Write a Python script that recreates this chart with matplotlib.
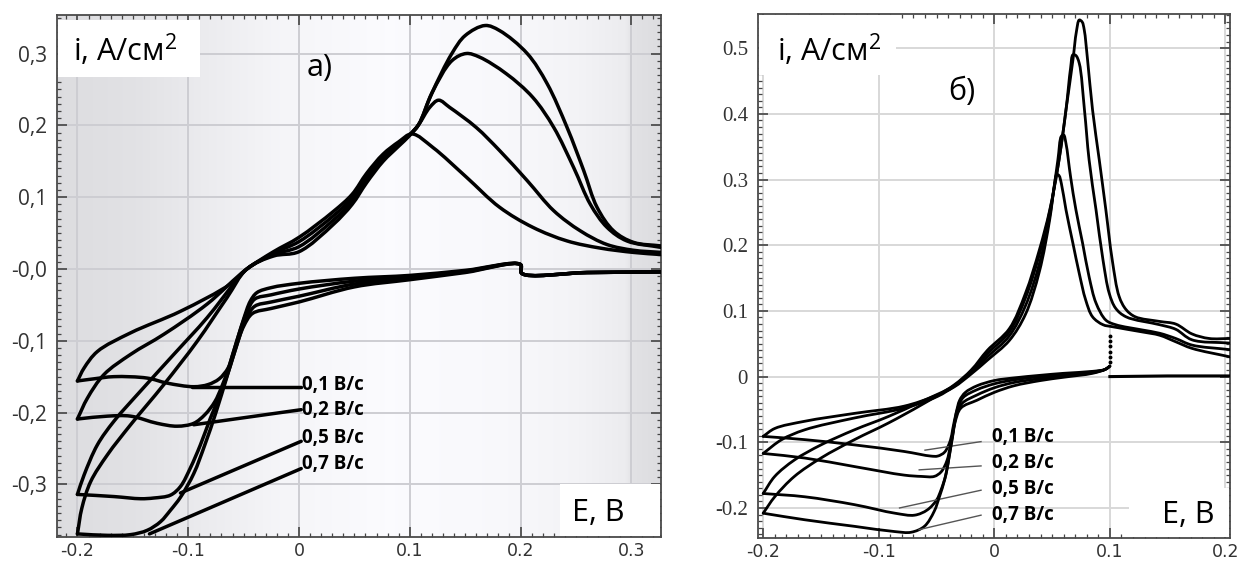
import numpy as np
import matplotlib.pyplot as plt
from matplotlib.patches import Rectangle, PathPatch
from matplotlib.path import Path
from matplotlib.ticker import MultipleLocator, FixedLocator

plt.rcParams["mathtext.fontset"] = "custom"
plt.rcParams["mathtext.rm"] = "Open Sans"

rate_labels = ["0,1 В/с", "0,2 В/с", "0,5 В/с", "0,7 В/с"]
current_label = "i, А/см$\\mathrm{^{2}}$"

# ---- panel а): anodic sweep, E in V, i in A/cm2 ----
a_fwd_E = [
    [-0.2, -0.194, -0.182, -0.152, -0.107, -0.062, -0.047, -0.023, 0.0, 0.031, 0.048, 0.061, 0.076, 0.090,
     0.102, 0.121, 0.151, 0.181, 0.211, 0.242, 0.272, 0.302, 0.327],
    [-0.2, -0.191, -0.176, -0.152, -0.122, -0.083, -0.047, -0.023, 0.0, 0.031, 0.048, 0.061, 0.076, 0.090,
     0.100, 0.108, 0.118, 0.126, 0.136, 0.160, 0.181, 0.206, 0.230, 0.254, 0.278, 0.302, 0.327],
    [-0.2, -0.194, -0.182, -0.167, -0.143, -0.113, -0.083, -0.059, -0.047, -0.023, 0.0, 0.031, 0.048, 0.061,
     0.076, 0.090, 0.100, 0.108, 0.120, 0.138, 0.151, 0.163, 0.187, 0.211, 0.230, 0.248, 0.263, 0.278,
     0.296, 0.327],
    [-0.2, -0.196, -0.188, -0.173, -0.152, -0.122, -0.092, -0.065, -0.047, -0.023, 0.0, 0.031, 0.048, 0.061,
     0.076, 0.090, 0.100, 0.108, 0.120, 0.138, 0.150, 0.168, 0.181, 0.206, 0.224, 0.242, 0.257, 0.269,
     0.284, 0.302, 0.327],
]
a_fwd_i = [
    [-0.156, -0.138, -0.115, -0.089, -0.059, -0.021, 0.0, 0.024, 0.044, 0.080, 0.104, 0.133, 0.160, 0.177,
     0.188, 0.169, 0.128, 0.086, 0.058, 0.039, 0.029, 0.023, 0.020],
    [-0.209, -0.180, -0.147, -0.119, -0.091, -0.049, 0.0, 0.022, 0.038, 0.074, 0.099, 0.130, 0.157, 0.175,
     0.187, 0.201, 0.225, 0.235, 0.225, 0.197, 0.165, 0.123, 0.081, 0.053, 0.034, 0.026, 0.023],
    [-0.314, -0.287, -0.245, -0.212, -0.170, -0.119, -0.068, -0.021, 0.0, 0.020, 0.031, 0.068, 0.094, 0.125,
     0.153, 0.173, 0.187, 0.201, 0.245, 0.290, 0.300, 0.295, 0.272, 0.239, 0.197, 0.141, 0.090, 0.058,
     0.039, 0.030],
    [-0.369, -0.333, -0.296, -0.259, -0.217, -0.161, -0.101, -0.040, 0.0, 0.018, 0.024, 0.062, 0.090, 0.120,
     0.150, 0.171, 0.186, 0.201, 0.245, 0.300, 0.325, 0.339, 0.332, 0.300, 0.258, 0.197, 0.137, 0.086,
     0.053, 0.037, 0.032],
]
a_rev_E = [
    [0.327, 0.26, 0.201, 0.200, 0.15, 0.10, 0.05, 0.0, -0.025, -0.038, -0.044, -0.050, -0.055, -0.060,
     -0.064, -0.072, -0.082, -0.095, -0.119, -0.137, -0.167, -0.185, -0.2],
    [0.327, 0.26, 0.201, 0.200, 0.15, 0.10, 0.05, 0.0, -0.025, -0.040, -0.047, -0.053, -0.059, -0.064,
     -0.070, -0.076, -0.085, -0.095, -0.110, -0.128, -0.152, -0.173, -0.2],
    [0.327, 0.26, 0.201, 0.200, 0.15, 0.10, 0.05, 0.0, -0.025, -0.040, -0.048, -0.055, -0.062, -0.070,
     -0.080, -0.089, -0.098, -0.107, -0.116, -0.131, -0.143, -0.167, -0.2],
    [0.327, 0.26, 0.201, 0.200, 0.15, 0.10, 0.05, 0.0, -0.025, -0.042, -0.050, -0.057, -0.065, -0.075,
     -0.085, -0.095, -0.107, -0.116, -0.125, -0.137, -0.152, -0.173, -0.2],
]
a_rev_i = [
    [-0.004, -0.005, -0.006, 0.006, -0.002, -0.009, -0.013, -0.020, -0.026, -0.033, -0.045, -0.070, -0.095,
     -0.120, -0.138, -0.153, -0.161, -0.164, -0.159, -0.152, -0.150, -0.153, -0.156],
    [-0.004, -0.005, -0.006, 0.006, -0.003, -0.011, -0.017, -0.028, -0.036, -0.042, -0.060, -0.085, -0.115,
     -0.140, -0.165, -0.185, -0.203, -0.215, -0.219, -0.215, -0.205, -0.205, -0.209],
    [-0.004, -0.005, -0.006, 0.006, -0.004, -0.013, -0.021, -0.038, -0.046, -0.052, -0.070, -0.100, -0.135,
     -0.170, -0.208, -0.245, -0.277, -0.303, -0.315, -0.319, -0.320, -0.317, -0.314],
    [-0.004, -0.005, -0.006, 0.006, -0.005, -0.015, -0.025, -0.046, -0.055, -0.062, -0.080, -0.110, -0.150,
     -0.200, -0.245, -0.285, -0.318, -0.336, -0.352, -0.364, -0.370, -0.371, -0.369],
]
a_lead_E0 = [-0.097, -0.095, -0.107, -0.135]
a_lead_i0 = [-0.164, -0.217, -0.312, -0.369]
a_lead_E1 = [0.002, 0.002, 0.002, 0.002]
a_lead_i1 = [-0.164, -0.196, -0.240, -0.278]
a_label_E = 0.003
a_label_i = [-0.162, -0.196, -0.236, -0.272]
a_yticks = [0.3, 0.2, 0.1, 0.0, -0.1, -0.2, -0.3]
a_yticklabels = ["0,3", "0,2", "0,1", "-0,0", "-0,1", "-0,2", "-0,3"]
a_xticks = [-0.2, -0.1, 0.0, 0.1, 0.2, 0.3]
a_xticklabels = ["-0.2", "-0.1", "0", "0.1", "0.2", "0.3"]

# ---- panel б) ----
b_fwd_E = [
    [-0.2, -0.190, -0.164, -0.121, -0.078, -0.052, -0.035, -0.020, -0.006, 0.013, 0.027, 0.039, 0.048,
     0.052, 0.054, 0.056, 0.058, 0.062, 0.068, 0.0735, 0.079, 0.085, 0.094, 0.102, 0.128, 0.143, 0.157,
     0.171, 0.204],
    [-0.2, -0.184, -0.164, -0.121, -0.078, -0.049, -0.035, -0.020, -0.006, 0.013, 0.027, 0.039, 0.048,
     0.055, 0.058, 0.060, 0.062, 0.066, 0.0706, 0.0764, 0.082, 0.088, 0.0965, 0.105, 0.128, 0.143, 0.157,
     0.171, 0.204],
    [-0.2, -0.190, -0.173, -0.150, -0.121, -0.092, -0.063, -0.035, -0.020, -0.006, 0.013, 0.027, 0.039,
     0.048, 0.056, 0.062, 0.066, 0.068, 0.0705, 0.0735, 0.078, 0.082, 0.088, 0.094, 0.0994, 0.105, 0.114,
     0.143, 0.157, 0.171, 0.204],
    [-0.2, -0.190, -0.173, -0.150, -0.121, -0.092, -0.063, -0.035, -0.020, -0.006, 0.013, 0.027, 0.039,
     0.048, 0.056, 0.062, 0.068, 0.071, 0.0735, 0.0760, 0.0778, 0.0807, 0.085, 0.0908, 0.0965, 0.102,
     0.108, 0.114, 0.122, 0.143, 0.157, 0.171, 0.186, 0.204],
]
b_fwd_i = [
    [-0.091, -0.079, -0.068, -0.056, -0.045, -0.030, -0.016, 0.004, 0.025, 0.055, 0.095, 0.160, 0.240,
     0.292, 0.308, 0.306, 0.294, 0.254, 0.203, 0.157, 0.117, 0.091, 0.079, 0.076, 0.068, 0.063, 0.053,
     0.043, 0.030],
    [-0.117, -0.096, -0.081, -0.063, -0.048, -0.030, -0.015, 0.006, 0.030, 0.062, 0.108, 0.172, 0.245,
     0.330, 0.366, 0.368, 0.355, 0.304, 0.254, 0.203, 0.152, 0.112, 0.086, 0.079, 0.071, 0.066, 0.058,
     0.048, 0.041],
    [-0.178, -0.152, -0.127, -0.104, -0.081, -0.061, -0.038, -0.014, 0.008, 0.035, 0.068, 0.120, 0.186,
     0.252, 0.330, 0.406, 0.470, 0.490, 0.489, 0.477, 0.406, 0.330, 0.254, 0.178, 0.127, 0.104, 0.091,
     0.079, 0.072, 0.056, 0.051],
    [-0.208, -0.183, -0.152, -0.124, -0.096, -0.071, -0.043, -0.013, 0.010, 0.040, 0.073, 0.127, 0.193,
     0.254, 0.330, 0.406, 0.482, 0.525, 0.543, 0.540, 0.528, 0.482, 0.406, 0.330, 0.254, 0.178, 0.122,
     0.102, 0.091, 0.084, 0.080, 0.065, 0.058, 0.058],
]
b_rev_E = [
    [0.100, 0.096, 0.085, 0.06, 0.04, 0.017, 0.0, -0.015, -0.025, -0.030, -0.033, -0.036, -0.038, -0.043,
     -0.049, -0.055, -0.078, -0.121, -0.164, -0.2],
    [0.100, 0.096, 0.085, 0.06, 0.04, 0.017, 0.0, -0.015, -0.027, -0.032, -0.035, -0.038, -0.041, -0.046,
     -0.052, -0.063, -0.078, -0.121, -0.164, -0.2],
    [0.100, 0.096, 0.085, 0.06, 0.04, 0.017, 0.0, -0.015, -0.028, -0.033, -0.036, -0.039, -0.042, -0.046,
     -0.050, -0.058, -0.069, -0.086, -0.121, -0.164, -0.2],
    [0.100, 0.096, 0.085, 0.06, 0.04, 0.017, 0.0, -0.015, -0.029, -0.034, -0.037, -0.040, -0.043, -0.0475,
     -0.052, -0.0605, -0.072, -0.086, -0.121, -0.164, -0.2],
]
b_rev_i = [
    [0.016, 0.011, 0.008, 0.005, 0.002, -0.002, -0.006, -0.014, -0.024, -0.036, -0.055, -0.080, -0.097,
     -0.115, -0.121, -0.121, -0.114, -0.104, -0.096, -0.091],
    [0.016, 0.011, 0.007, 0.003, 0.0, -0.005, -0.011, -0.020, -0.032, -0.050, -0.076, -0.105, -0.128,
     -0.145, -0.152, -0.152, -0.150, -0.137, -0.124, -0.117],
    [0.016, 0.011, 0.006, 0.001, -0.003, -0.009, -0.017, -0.028, -0.041, -0.060, -0.090, -0.120, -0.150,
     -0.172, -0.188, -0.203, -0.211, -0.208, -0.195, -0.183, -0.178],
    [0.016, 0.011, 0.005, -0.001, -0.006, -0.014, -0.024, -0.036, -0.048, -0.070, -0.100, -0.132, -0.157,
     -0.183, -0.205, -0.228, -0.237, -0.236, -0.228, -0.218, -0.208],
]
b_flat_E = [0.100, 0.150, 0.204]
b_flat_i = [0.000, 0.001, 0.001]
b_spike_E = [0.100, 0.100, 0.100, 0.100, 0.100, 0.100]
b_spike_i = [0.022, 0.030, 0.038, 0.046, 0.054, 0.062]
b_lead_E0 = [-0.060, -0.065, -0.082, -0.065]
b_lead_i0 = [-0.112, -0.142, -0.200, -0.233]
b_lead_E1 = [-0.0115, -0.0115, -0.0115, -0.0115]
b_lead_i1 = [-0.099, -0.136, -0.173, -0.211]
b_label_E = -0.002
b_label_i = [-0.092, -0.131, -0.171, -0.211]
b_yticks = [0.5, 0.4, 0.3, 0.2, 0.1, 0.0, -0.1, -0.2]
b_yticklabels = ["0.5", "0.4", "0.3", "0.2", "0.1", "0", "-0.1", "-0.2"]
b_xticks = [-0.2, -0.1, 0.0, 0.1, 0.2]
b_xticklabels = ["-0.2", "-0.1", "0", "0.1", "0.2"]

sans = ["Open Sans", "DejaVu Sans"]

W, H = 1240, 562
fig = plt.figure(figsize=(W / 100, H / 100), dpi=100)
a_box = [0.046, 0.045, 0.487, 0.928]
b_box = [0.611, 0.043, 0.381, 0.932]
ax_a = fig.add_axes(a_box)
ax_b = fig.add_axes(b_box)

a_xlim, a_ylim = (-0.2184, 0.3267), (-0.3729, 0.3534)
b_xlim, b_ylim = (-0.2048, 0.204), (-0.2455, 0.552)


def smooth_curve(E, i, sx, sy):
    # centripetal Catmull-Rom through the points, as cubic Bezier segments
    P = np.column_stack([np.asarray(E, float) * sx, np.asarray(i, float) * sy])
    ext = np.vstack([2 * P[0] - P[1], P, 2 * P[-1] - P[-2]])
    verts, codes = [P[0]], [Path.MOVETO]
    for k in range(len(P) - 1):
        p0, p1, p2, p3 = ext[k], ext[k + 1], ext[k + 2], ext[k + 3]
        d1 = max(np.hypot(*(p1 - p0)), 1e-9)
        d2 = max(np.hypot(*(p2 - p1)), 1e-9)
        d3 = max(np.hypot(*(p3 - p2)), 1e-9)
        a1, a2, a3 = np.sqrt(d1), np.sqrt(d2), np.sqrt(d3)
        b1 = (d1 * p2 - d2 * p0 + (2 * d1 + 3 * a1 * a2 + d2) * p1) / (3 * a1 * (a1 + a2))
        b2 = (d3 * p1 - d2 * p3 + (2 * d3 + 3 * a3 * a2 + d2) * p2) / (3 * a3 * (a3 + a2))
        verts += [b1, b2, p2]
        codes += [Path.CURVE4] * 3
    verts = np.array(verts) / [sx, sy]
    return Path(verts, codes)


def draw_curve(ax, box, xlim, ylim, E, i, lw):
    sx = W * box[2] / (xlim[1] - xlim[0])
    sy = H * box[3] / (ylim[1] - ylim[0])
    ax.add_patch(PathPatch(smooth_curve(E, i, sx, sy), facecolor="none", edgecolor="black", lw=lw,
                           capstyle="round", joinstyle="round", zorder=3))


def style_axes(ax, xlim, ylim, xticks, xlabels, yticks, ylabels, yfont, gridcolor):
    ax.set_xlim(*xlim)
    ax.set_ylim(*ylim)
    ax.xaxis.set_major_locator(FixedLocator(xticks))
    ax.yaxis.set_major_locator(FixedLocator(yticks))
    ax.xaxis.set_minor_locator(MultipleLocator(0.01))
    ax.yaxis.set_minor_locator(MultipleLocator(0.01))
    ax.set_xticklabels(xlabels, family="DejaVu Sans", fontsize=12.5, color="#333333")
    ax.set_yticklabels(ylabels, **yfont)
    ax.tick_params(which="both", direction="in", top=True, right=True, color="#444444")
    ax.tick_params(which="major", length=7, width=1.2)
    ax.tick_params(which="minor", length=3, width=0.9)
    ax.tick_params(axis="x", pad=4)
    ax.tick_params(axis="y", pad=7)
    ax.grid(True, which="major", color=gridcolor, lw=1.4)
    ax.set_axisbelow(True)
    for sp in ax.spines.values():
        sp.set_color("#4a4a4a")
        sp.set_linewidth(1.3)


# panel а)
style_axes(ax_a, a_xlim, a_ylim, a_xticks, a_xticklabels, a_yticks, a_yticklabels,
           dict(family=sans, fontsize=15, color="#333333"), "#cdcdd2")

# soft grey shading towards both sides of panel а)
shade_E = [a_xlim[0], -0.15, -0.10, -0.02, 0.08, 0.18, 0.25, 0.295, 0.302, a_xlim[1]]
shade_v = [0.865, 0.885, 0.915, 0.96, 0.985, 0.975, 0.955, 0.925, 0.885, 0.865]
gx = np.linspace(a_xlim[0], a_xlim[1], 600)
g = np.interp(gx, shade_E, shade_v)
bg = np.dstack([g, g, np.clip(g + 0.012, 0, 1)])
ax_a.imshow(bg, extent=[a_xlim[0], a_xlim[1], a_ylim[0], a_ylim[1]], aspect="auto",
            zorder=-2, interpolation="bilinear")
ax_a.set_xlim(*a_xlim)
ax_a.set_ylim(*a_ylim)

for k in range(4):
    draw_curve(ax_a, a_box, a_xlim, a_ylim, a_fwd_E[k], a_fwd_i[k], 2.5)
    draw_curve(ax_a, a_box, a_xlim, a_ylim, a_rev_E[k], a_rev_i[k], 2.5)
    ax_a.plot([a_lead_E0[k], a_lead_E1[k]], [a_lead_i0[k], a_lead_i1[k]], color="black", lw=2.5,
              solid_capstyle="round", zorder=3)
    ax_a.text(a_label_E, a_label_i[k], rate_labels[k], family=sans, fontweight="bold", fontsize=13.5,
              ha="left", va="center", zorder=5)

ax_a.add_patch(Rectangle((0.002, 0.881), 0.235, 0.11, transform=ax_a.transAxes, facecolor="white",
                         edgecolor="none", zorder=4))
ax_a.text(0.026, 0.933, current_label, transform=ax_a.transAxes, family=sans, fontsize=22,
          ha="left", va="center", zorder=5)
ax_a.text(0.435, 0.898, "а)", transform=ax_a.transAxes, family=sans, fontsize=22,
          ha="center", va="center", zorder=5)
ax_a.add_patch(Rectangle((0.833, 0.002), 0.165, 0.099, transform=ax_a.transAxes, facecolor="white",
                         edgecolor="none", zorder=4))
ax_a.text(0.896, 0.046, "E, В", transform=ax_a.transAxes, family=sans, fontsize=22,
          ha="center", va="center", zorder=5)

# panel б)
style_axes(ax_b, b_xlim, b_ylim, b_xticks, b_xticklabels, b_yticks, b_yticklabels,
           dict(family=["Liberation Serif", "DejaVu Serif"], fontsize=15, color="#333333"), "#d8d8d8")
ax_b.set_facecolor("white")

for k in range(4):
    draw_curve(ax_b, b_box, b_xlim, b_ylim, b_fwd_E[k], b_fwd_i[k], 2.0)
    draw_curve(ax_b, b_box, b_xlim, b_ylim, b_rev_E[k], b_rev_i[k], 2.0)
    ax_b.plot([b_lead_E0[k], b_lead_E1[k]], [b_lead_i0[k], b_lead_i1[k]], color="#555555", lw=1.0,
              zorder=3)
    ax_b.text(b_label_E, b_label_i[k], rate_labels[k], family=sans, fontweight="bold", fontsize=13.5,
              ha="left", va="center", zorder=5)
ax_b.plot(b_flat_E, b_flat_i, color="black", lw=2.2, zorder=3)
ax_b.plot(b_spike_E, b_spike_i, "o", color="black", ms=1.8, zorder=3)

ax_b.add_patch(Rectangle((0.002, 0.884), 0.29, 0.114, transform=ax_b.transAxes, facecolor="white",
                         edgecolor="none", zorder=4))
ax_b.text(0.04, 0.931, current_label, transform=ax_b.transAxes, family=sans, fontsize=22,
          ha="left", va="center", zorder=5)
ax_b.text(0.433, 0.851, "б)", transform=ax_b.transAxes, family=sans, fontsize=22,
          ha="center", va="center", zorder=5)
ax_b.add_patch(Rectangle((0.786, 0.002), 0.212, 0.093, transform=ax_b.transAxes, facecolor="white",
                         edgecolor="none", zorder=4))
ax_b.text(0.911, 0.044, "E, В", transform=ax_b.transAxes, family=sans, fontsize=22,
          ha="center", va="center", zorder=5)

fig.savefig("out.png", dpi=100)
